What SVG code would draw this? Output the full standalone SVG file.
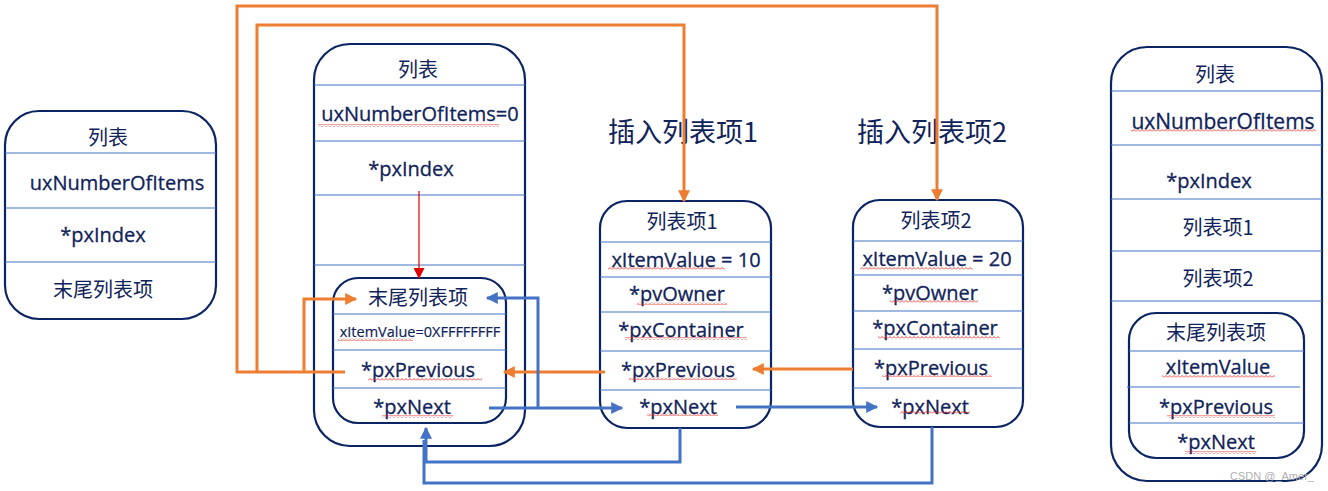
<svg xmlns="http://www.w3.org/2000/svg" width="1328" height="491" viewBox="0 0 1328 491">
<style>
.box{fill:#fff;stroke:#0b2463;stroke-width:2.2}
.div{stroke:#4472C4;stroke-width:1.2}
.t{font-family:"Open Sans","Noto Sans","Noto Sans CJK SC",sans-serif;font-size:20px;fill:#10235a;stroke:#10235a;stroke-width:0.3;text-anchor:middle}
.c{font-family:"Noto Sans CJK SC","Noto Sans",sans-serif;font-size:20px;fill:#10235a;text-anchor:middle}
.title{font-family:"Noto Sans CJK SC","Noto Sans",sans-serif;font-size:27px;fill:#10235a}
.or{fill:none;stroke:#ED7D31;stroke-width:3}
.bl{fill:none;stroke:#4472C4;stroke-width:3}
.wv{fill:url(#wave)}
</style>
<defs>
<pattern id="wave" width="4" height="3" patternUnits="userSpaceOnUse"><path d="M0 2.5 L2 0.5 L4 2.5" fill="none" stroke="#e8322c" stroke-width="0.9"/></pattern>
<marker id="ao" viewBox="0 0 10 10" refX="9" refY="5" markerWidth="13" markerHeight="12" markerUnits="userSpaceOnUse" orient="auto"><path d="M0 0 L10 5 L0 10z" fill="#ED7D31"/></marker>
<marker id="ab" viewBox="0 0 10 10" refX="9" refY="5" markerWidth="13" markerHeight="12" markerUnits="userSpaceOnUse" orient="auto"><path d="M0 0 L10 5 L0 10z" fill="#4472C4"/></marker>
<marker id="ar" viewBox="0 0 10 10" refX="9" refY="5" markerWidth="12" markerHeight="11" markerUnits="userSpaceOnUse" orient="auto"><path d="M0 0 L10 5 L0 10z" fill="#e00000"/></marker>
</defs>
<rect width="1328" height="491" fill="#fff"/>

<g id="list-left">
<rect class="box" x="5" y="111" width="211" height="208" rx="34"/>
<line class="div" x1="5" y1="153" x2="216" y2="153"/>
<line class="div" x1="5" y1="208" x2="216" y2="208"/>
<line class="div" x1="5" y1="262" x2="216" y2="262"/>
<text class="c" x="108" y="145">列表</text>
<text class="t" x="117" y="190">uxNumberOfItems</text>
<text class="t" x="103" y="242">*pxIndex</text>
<text class="c" x="103" y="297">末尾列表项</text>
</g>

<g id="list-mid">
<rect class="box" x="314" y="44" width="211" height="402" rx="36"/>
<line class="div" x1="314" y1="85" x2="525" y2="85"/>
<line class="div" x1="314" y1="141" x2="525" y2="141"/>
<line class="div" x1="314" y1="195" x2="525" y2="195"/>
<line class="div" x1="314" y1="265" x2="525" y2="265"/>
<text class="c" x="418" y="77">列表</text>
<text class="t" x="420" y="121">uxNumberOfItems=0</text>
<rect class="wv" x="318" y="124" width="181" height="3"/>
<text class="t" x="411" y="176">*pxIndex</text>
</g>

<g id="list-end">
<rect class="box" x="333" y="278" width="173" height="145" rx="25"/>
<line class="div" x1="333" y1="314" x2="506" y2="314"/>
<line class="div" x1="333" y1="350" x2="506" y2="350"/>
<line class="div" x1="333" y1="388" x2="506" y2="388"/>
<text class="c" x="418" y="305">末尾列表项</text>
<text class="t" x="420" y="337" style="font-size:14.5px;stroke-width:0.2">xItemValue=0XFFFFFFFF</text>
<rect class="wv" x="338" y="338" width="75" height="3"/>
<text class="t" x="418" y="377">*pxPrevious</text>
<rect class="wv" x="368" y="378" width="114" height="3"/>
<text class="t" x="412" y="414">*pxNext</text>
<rect class="wv" x="382" y="415" width="71" height="3"/>
</g>

<g id="title1"><text class="title" x="608" y="142">插入列表项1</text></g>
<g id="title2"><text class="title" x="857" y="142">插入列表项2</text></g>

<g id="item1">
<rect class="box" x="600" y="201" width="171" height="227" rx="27"/>
<line class="div" x1="600" y1="242" x2="771" y2="242"/>
<line class="div" x1="600" y1="277" x2="771" y2="277"/>
<line class="div" x1="600" y1="312" x2="771" y2="312"/>
<line class="div" x1="600" y1="351" x2="771" y2="351"/>
<line class="div" x1="600" y1="390" x2="771" y2="390"/>
<text class="c" x="682" y="229">列表项1</text>
<text class="t" x="686" y="267">xItemValue = 10</text>
<rect class="wv" x="608" y="267" width="117" height="3"/>
<text class="t" x="677" y="301">*pvOwner</text>
<rect class="wv" x="637" y="302" width="90" height="3"/>
<text class="t" x="681" y="337">*pxContainer</text>
<rect class="wv" x="625" y="337" width="122" height="3"/>
<text class="t" x="678" y="377">*pxPrevious</text>
<rect class="wv" x="629" y="377" width="108" height="3"/>
<text class="t" x="678" y="414">*pxNext</text>
<rect class="wv" x="647" y="413" width="71" height="3"/>
</g>

<g id="item2">
<rect class="box" x="853" y="200" width="170" height="227" rx="27"/>
<line class="div" x1="853" y1="241" x2="1023" y2="241"/>
<line class="div" x1="853" y1="275" x2="1023" y2="275"/>
<line class="div" x1="853" y1="311" x2="1023" y2="311"/>
<line class="div" x1="853" y1="349" x2="1023" y2="349"/>
<line class="div" x1="853" y1="388" x2="1023" y2="388"/>
<text class="c" x="936" y="228">列表项2</text>
<text class="t" x="937" y="266">xItemValue = 20</text>
<rect class="wv" x="860" y="267" width="113" height="3"/>
<text class="t" x="930" y="300">*pvOwner</text>
<rect class="wv" x="890" y="300" width="88" height="3"/>
<text class="t" x="935" y="335">*pxContainer</text>
<rect class="wv" x="878" y="336" width="122" height="3"/>
<text class="t" x="931" y="375">*pxPrevious</text>
<rect class="wv" x="882" y="374" width="110" height="3"/>
<text class="t" x="930" y="414">*pxNext</text>
<rect class="wv" x="900" y="411" width="70" height="3"/>
</g>

<g id="list-right">
<rect class="box" x="1111" y="47" width="211" height="434" rx="36"/>
<line class="div" x1="1111" y1="91" x2="1322" y2="91"/>
<line class="div" x1="1111" y1="145" x2="1322" y2="145"/>
<line class="div" x1="1111" y1="199" x2="1322" y2="199"/>
<line class="div" x1="1111" y1="251" x2="1322" y2="251"/>
<line class="div" x1="1111" y1="301" x2="1322" y2="301"/>
<text class="c" x="1215" y="82">列表</text>
<text class="t" x="1223" y="129" style="font-size:21px">uxNumberOfItems</text>
<rect class="wv" x="1131" y="129" width="185" height="3"/>
<text class="t" x="1209" y="188">*pxIndex</text>
<text class="c" x="1218" y="235">列表项1</text>
<text class="c" x="1218" y="286">列表项2</text>
<rect class="box" x="1129" y="313" width="175" height="145" rx="27"/>
<line class="div" x1="1129" y1="351" x2="1304" y2="351"/>
<line class="div" x1="1127" y1="387" x2="1300" y2="387"/>
<line class="div" x1="1129" y1="423" x2="1304" y2="423"/>
<text class="c" x="1216" y="340">末尾列表项</text>
<text class="t" x="1218" y="374">xItemValue</text>
<rect class="wv" x="1162" y="375" width="113" height="3"/>
<text class="t" x="1216" y="414">*pxPrevious</text>
<rect class="wv" x="1167" y="415" width="108" height="3"/>
<text class="t" x="1216" y="449">*pxNext</text>
<rect class="wv" x="1185" y="451" width="71" height="3"/>
</g>

<g id="connectors">
<line x1="419" y1="191" x2="419" y2="278" stroke="#e00000" stroke-width="1.2" marker-end="url(#ar)"/>
<path class="or" d="M345 372 H237 V6 H937 V200" marker-end="url(#ao)"/>
<path class="or" d="M257 372 V25 H684 V201" marker-end="url(#ao)"/>
<path class="or" d="M304 372 V299 H356" marker-end="url(#ao)"/>
<path class="or" d="M605 372 H504" marker-end="url(#ao)"/>
<path class="or" d="M853 369 H753" marker-end="url(#ao)"/>
<path class="bl" d="M489 408 H622" marker-end="url(#ab)"/>
<path class="bl" d="M538 408 V298 H487" marker-end="url(#ab)"/>
<path class="bl" d="M736 407 H877" marker-end="url(#ab)"/>
<path class="bl" d="M932 427 V483 H424 V440"/>
<path class="bl" d="M680 428 V462 H426 V428" marker-end="url(#ab)"/>
</g>

<g id="watermark"><text x="1230" y="480" style="font-family:'Liberation Sans',sans-serif;font-size:11px;fill:#b0b0b0">CSDN @_Amer_</text></g>
</svg>
